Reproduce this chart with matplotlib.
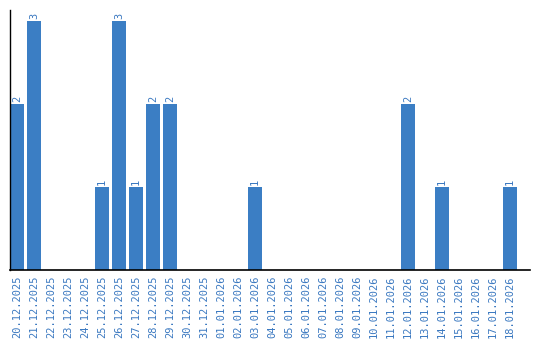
import matplotlib
matplotlib.use("Agg")
import matplotlib.pyplot as plt
from datetime import date, timedelta

start = date(2025, 12, 20)
days = [start + timedelta(days=i) for i in range(30)]
labels = [d.strftime("%d.%m.%Y") for d in days]

counts = {
    "20.12.2025": 2, "21.12.2025": 3, "25.12.2025": 1, "26.12.2025": 3,
    "27.12.2025": 1, "28.12.2025": 2, "29.12.2025": 2, "03.01.2026": 1,
    "12.01.2026": 2, "14.01.2026": 1, "18.01.2026": 1,
}
values = [counts.get(l, 0) for l in labels]

bar_color = "#3b7ec4"
text_color = "#3a78c0"
font = "DejaVu Sans Mono"

fig = plt.figure(figsize=(5.4, 3.4), dpi=100)
ax = fig.add_axes([10 / 540, 70 / 340, 520 / 540, 260 / 340])

w = 14 / 17
x = list(range(len(values)))
bars = ax.bar(x, values, width=w, align="edge", color=bar_color)

for xi, v in zip(x, values):
    if v > 0:
        ax.annotate(str(v), (xi + w / 2, v), xytext=(0, 1.5), textcoords="offset points",
                    ha="center", va="bottom", rotation=90, color=text_color,
                    fontsize=7.5, family=font)

ax.set_xlim(0, 520 / 17)
ax.set_ylim(0, 260 / 83)
ax.set_xticks([xi + w / 2 for xi in x])
ax.set_xticklabels(labels, rotation=90, color=text_color, fontsize=7.5, family=font)
ax.tick_params(axis="x", length=0, pad=4)
ax.set_yticks([])
for s in ["top", "right"]:
    ax.spines[s].set_visible(False)
ax.spines["left"].set_linewidth(1)
ax.spines["bottom"].set_linewidth(1.2)

fig.savefig("out.png", dpi=100)
